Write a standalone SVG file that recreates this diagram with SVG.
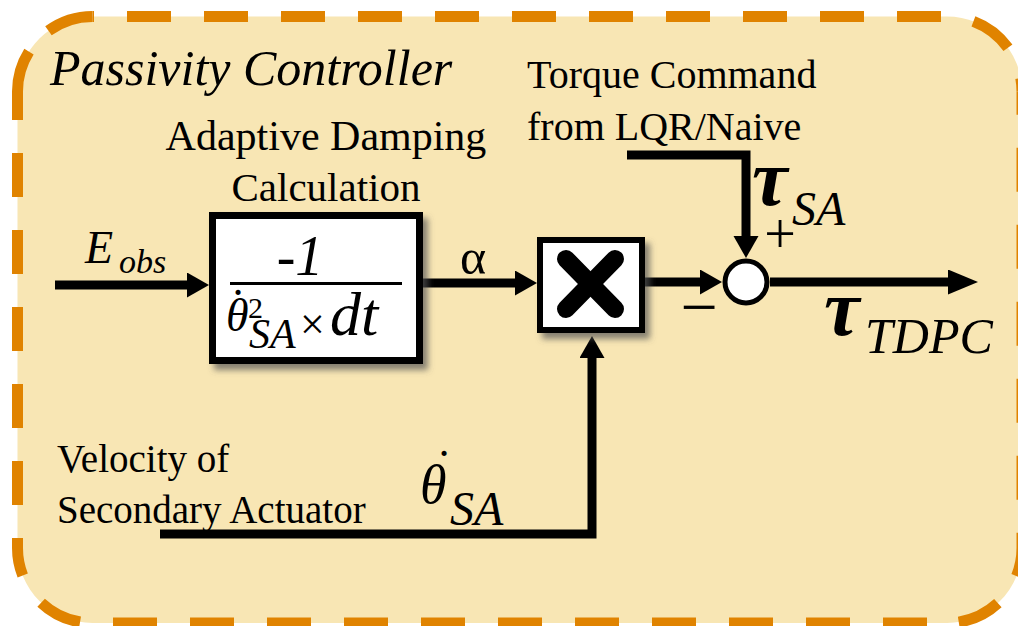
<svg xmlns="http://www.w3.org/2000/svg" width="1018" height="626" viewBox="0 0 1018 626">
<style>
text{font-family:'Liberation Serif','Times New Roman',serif;fill:#000}
.i{font-style:italic}
.ln{stroke:#000;stroke-width:9;fill:none}
.blk{fill:#fff;stroke:#000}
.fr{fill:none;stroke:#E08300;stroke-width:11;stroke-dasharray:44 33}
</style>
<defs>
<filter id="sh" x="-20%" y="-20%" width="150%" height="150%">
<feDropShadow dx="5" dy="6" stdDeviation="3" flood-color="#555" flood-opacity="0.7"/>
</filter>
<marker id="ah" markerUnits="userSpaceOnUse" markerWidth="24" markerHeight="26" refX="0" refY="12.5" orient="auto">
<polygon points="0,0 22,12.5 0,25" fill="#000"/>
</marker>
<marker id="ahb" markerUnits="userSpaceOnUse" markerWidth="32" markerHeight="26" refX="0" refY="12.5" orient="auto">
<polygon points="0,0 30,12.5 0,25" fill="#000"/>
</marker>
</defs>

<g id="frame">
<rect x="17.5" y="16.5" width="1004.5" height="606.5" rx="75" fill="#F8E6B4"/>
<path class="fr" d="M92.5,16.5 H947 A75,75 0 0 1 1022,91.5" stroke-dashoffset="42.5"/>
<path class="fr" d="M1022,91.5 V548 A75,75 0 0 1 947,623" stroke-dashoffset="20.7"/>
<path class="fr" d="M947,623 H92.5 A75,75 0 0 1 17.5,548" stroke-dashoffset="57"/>
<path class="fr" d="M17.5,548 V91.5 A75,75 0 0 1 92.5,16.5" style="stroke-dasharray:10 33 44 33 44 33 44 33 44 33 44 33 70.5 28.6 47.2 100"/>
<text class="i" x="50" y="85" font-size="50">Passivity Controller</text>
</g>

<g id="connectors">
<line class="ln" x1="55" y1="285" x2="187" y2="285" marker-end="url(#ah)"/>
<line class="ln" x1="423" y1="283" x2="515" y2="283" marker-end="url(#ah)"/>
<line class="ln" x1="645" y1="282" x2="700" y2="282" marker-end="url(#ah)"/>
<polyline class="ln" points="627,155 746,155 746,236" marker-end="url(#ah)"/>
<line class="ln" x1="770" y1="282" x2="948" y2="282" marker-end="url(#ahb)"/>
<polyline class="ln" points="160,534 592,534 592,358" marker-end="url(#ah)"/>
</g>

<g id="damping">
<rect class="blk" x="212.5" y="215.5" width="207" height="145" stroke-width="7" filter="url(#sh)"/>
<text class="i" x="300" y="275" font-size="56" text-anchor="middle">-1</text>
<line x1="230" y1="283.5" x2="402" y2="283.5" stroke="#000" stroke-width="3"/>
<text class="i" x="226" y="331" font-size="46">θ</text>
<text x="230" y="322" font-size="48">˙</text>
<text x="248" y="318" font-size="30">2</text>
<text class="i" x="249" y="348" font-size="42">SA</text>
<text x="300" y="339" font-size="44">×</text>
<text class="i" x="330" y="335" font-size="62">dt</text>
</g>

<g id="multiply">
<rect class="blk" x="540" y="240" width="102" height="90" stroke-width="6" filter="url(#sh)"/>
<g stroke="#000" stroke-width="18" stroke-linecap="round">
<line x1="566" y1="259" x2="615" y2="309"/>
<line x1="615" y1="259" x2="566" y2="309"/>
</g>
</g>

<g id="sum">
<circle cx="746" cy="282" r="21" fill="#fff" stroke="#000" stroke-width="5"/>
<text x="699" y="329" font-size="66" text-anchor="middle">−</text>
<text x="780" y="253" font-size="56" text-anchor="middle">+</text>
</g>

<g id="labels">
<text class="i" x="85" y="263" font-size="46">E</text>
<text class="i" x="119" y="273" font-size="34">obs</text>
<text x="326" y="150" font-size="42" text-anchor="middle">Adaptive Damping</text>
<text x="326" y="201" font-size="41" text-anchor="middle">Calculation</text>
<text x="460" y="274" font-size="50">α</text>
<text x="527" y="88" font-size="40">Torque Command</text>
<text x="527" y="140" font-size="40">from LQR/Naive</text>
<text class="i" x="752" y="205" font-size="80" font-weight="bold">τ</text>
<text class="i" x="792" y="225" font-size="48">SA</text>
<text class="i" x="824" y="335" font-size="80" font-weight="bold">τ</text>
<text class="i" x="865" y="353" font-size="50">TDPC</text>
<text x="57" y="472" font-size="39">Velocity of</text>
<text x="57" y="523" font-size="39">Secondary Actuator</text>
<text class="i" x="420" y="503" font-size="54">θ</text>
<text x="436" y="483" font-size="48">˙</text>
<text class="i" x="450" y="525" font-size="48">SA</text>
</g>
</svg>
